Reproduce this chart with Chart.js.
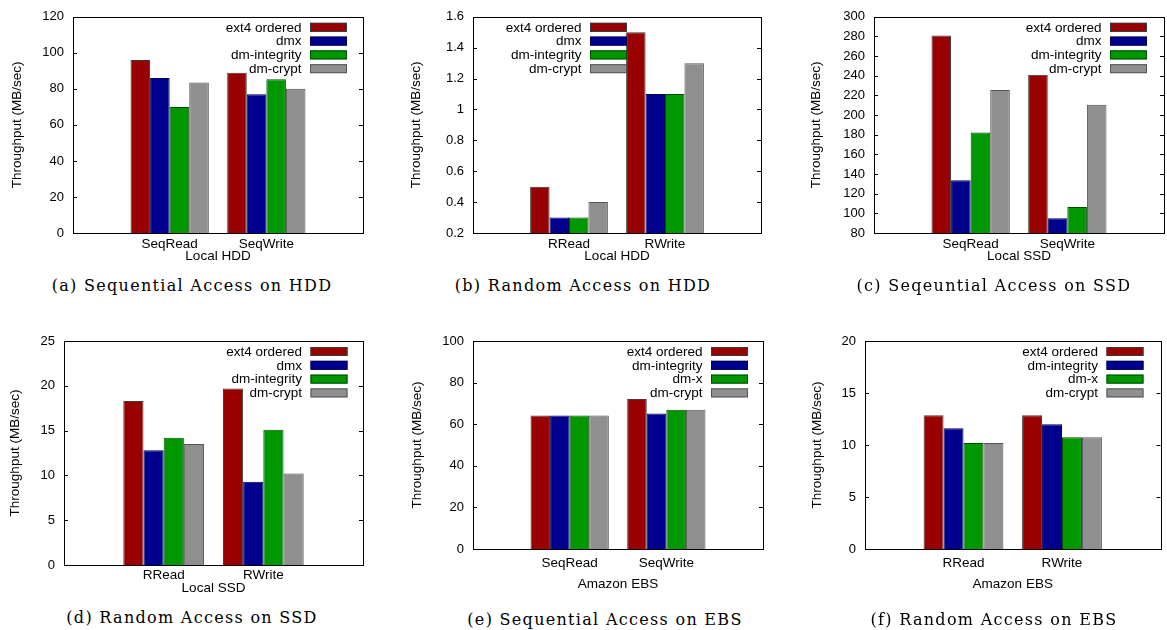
<!DOCTYPE html>
<html>
<head>
<meta charset="utf-8">
<script src="https://cdn.jsdelivr.net/npm/chart.js@4.4.1/dist/chart.umd.min.js"></script>
<style>
    body { margin: 0; background: #fff; width: 1167px; height: 630px; overflow: hidden; position: relative; }
    .panel { position: absolute; }
    .caption { position: absolute; transform: translate(-50%, -50%); white-space: nowrap; font-family: 'DejaVu Serif', serif; font-size: 16px; letter-spacing: 1.3px; color: #000; }
</style>
</head>
<body>
<div class="panel" style="left:0px;top:0px"><canvas id="chartA" width="390" height="266"></canvas></div>
<div class="panel" style="left:390px;top:0px"><canvas id="chartB" width="390" height="266"></canvas></div>
<div class="panel" style="left:777px;top:0px"><canvas id="chartC" width="390" height="266"></canvas></div>
<div class="panel" style="left:0px;top:310px"><canvas id="chartD" width="390" height="290"></canvas></div>
<div class="panel" style="left:390px;top:310px"><canvas id="chartE" width="390" height="290"></canvas></div>
<div class="panel" style="left:777px;top:310px"><canvas id="chartF" width="390" height="290"></canvas></div>

<div class="caption" style="left:192px;top:285px">(a) Sequential Access on HDD</div>
<div class="caption" style="left:583px;top:285px">(b) Random Access on HDD</div>
<div class="caption" style="left:994px;top:285px">(c) Seqeuntial Access on SSD</div>
<div class="caption" style="left:192px;top:617px">(d) Random Access on SSD</div>
<div class="caption" style="left:605px;top:619px">(e) Sequential Access on EBS</div>
<div class="caption" style="left:994px;top:619px">(f) Random Access on EBS</div>

<script>
// categories
const seqOps = ['SeqRead', 'SeqWrite'];
const randOps = ['RRead', 'RWrite'];

// legend names
const localSeries = ['ext4 ordered', 'dmx', 'dm-integrity', 'dm-crypt'];
const ebsSeries = ['ext4 ordered', 'dm-integrity', 'dm-x', 'dm-crypt'];

// values, one row per series: [read, write]
const hddSeq = [[96, 89], [86, 77], [70, 85.4], [83.5, 80]];
const hddRand = [[0.5, 1.5], [0.3, 1.1], [0.3, 1.1], [0.4, 1.3]];
const ssdSeq = [[281, 241], [133.6, 95], [182.3, 106.5], [225.5, 210.4]];
const ssdRand = [[18.3, 19.7], [12.8, 9.3], [14.2, 15.1], [13.5, 10.2]];
const ebsSeq = [[64.2, 72.1], [64.2, 65.2], [64.2, 66.9], [64.2, 66.9]];
const ebsRand = [[12.85, 12.85], [11.6, 12.0], [10.2, 10.75], [10.2, 10.75]];

const fills = ['#990000', '#00008f', '#009700', '#8f8f8f'];
const edges = ['#3a3a3a', '#000050', '#004d00', '#555555'];

const FONT = 'Liberation Sans, Arial, sans-serif';

// gnuplot style frame, inward ticks and legend with text left of the sample
const gnuplotLook = {
    id: 'gnuplotLook',
    afterDatasetsDraw(chart, args, opts) {
        const ctx = chart.ctx;
        const a = chart.chartArea;
        const y = chart.scales.y;
        ctx.save();
        ctx.strokeStyle = '#000';
        ctx.lineWidth = 1;
        ctx.beginPath();
        y.ticks.forEach(t => {
            const py = Math.round(y.getPixelForValue(t.value)) + 0.5;
            ctx.moveTo(a.left, py); ctx.lineTo(a.left + 4, py);
            ctx.moveTo(a.right, py); ctx.lineTo(a.right - 4, py);
        });
        ctx.stroke();
        ctx.strokeRect(Math.round(a.left) + 0.5, Math.round(a.top) + 0.5,
            Math.round(a.right - a.left), Math.round(a.bottom - a.top));

        // legend
        ctx.font = '13.5px ' + FONT;
        ctx.textAlign = 'right';
        ctx.textBaseline = 'middle';
        const boxRight = a.right - opts.right;
        const boxW = 37, boxH = 9;
        chart.data.datasets.forEach((ds, i) => {
            const cy = a.top + 10.5 + i * 13.8;
            ctx.fillStyle = '#000';
            ctx.fillText(ds.label, boxRight - boxW - 8.5, cy + 0.5);
            ctx.fillStyle = ds.backgroundColor;
            ctx.fillRect(boxRight - boxW, cy - boxH / 2, boxW, boxH);
            ctx.strokeStyle = ds.borderColor;
            ctx.strokeRect(boxRight - boxW + 0.5, cy - boxH / 2 + 0.5, boxW - 1, boxH - 1);
        });
        ctx.restore();
    }
};

function makeChart(id, ops, names, values, cfg) {
    const datasets = names.map((name, i) => ({
        label: name,
        data: [null, values[i][0], values[i][1], null],
        backgroundColor: fills[i],
        borderColor: edges[i],
        borderWidth: 1,
        categoryPercentage: 0.81,
        barPercentage: 1.0
    }));

    new Chart(document.getElementById(id), {
        type: 'bar',
        data: { labels: ['', ...ops, ''], datasets: datasets },
        options: {
            responsive: false,
            animation: false,
            devicePixelRatio: 1,
            layout: { padding: { top: cfg.top, right: cfg.right, bottom: cfg.bottom, left: 0 } },
            plugins: {
                legend: { display: false },
                tooltip: { enabled: false },
                gnuplotLook: { right: cfg.legendRight }
            },
            scales: {
                x: {
                    offset: false,
                    grid: { display: false, drawTicks: false, offset: false },
                    border: { display: false },
                    ticks: { autoSkip: false, maxRotation: 0, padding: cfg.xPad, color: '#000', font: { family: FONT, size: 13.5 } },
                    title: { display: true, text: cfg.xTitle, color: '#000', font: { family: FONT, size: 13.5 }, padding: { top: 0, bottom: 0 } },
                    afterFit: s => { s.height = cfg.xH; }
                },
                y: {
                    min: cfg.min, max: cfg.max,
                    grid: { display: false, drawTicks: false },
                    border: { display: false },
                    ticks: {
                        stepSize: cfg.step, padding: 9, color: '#000',
                        font: { family: FONT, size: 13 },
                        callback: v => String(+v.toFixed(2))
                    },
                    title: { display: true, text: 'Throughput (MB/sec)', color: '#000', font: { family: FONT, size: 13.5 }, padding: { top: cfg.yTitlePad, bottom: 0 } },
                    afterFit: s => { s.width = cfg.yW; }
                }
            }
        },
        plugins: [gnuplotLook]
    });
}

makeChart('chartA', seqOps, localSeries, hddSeq,
    { top: 9, right: 27, bottom: 2, xH: 31, xPad: 3, yW: 73, yTitlePad: 9.4, min: 0, max: 120, step: 20, xTitle: 'Local HDD', legendRight: 16 });
makeChart('chartB', randOps, localSeries, hddRand,
    { top: 9, right: 19, bottom: 2, xH: 31, xPad: 3, yW: 83, yTitlePad: 18.6, min: 0.2, max: 1.6, step: 0.2, xTitle: 'Local HDD', legendRight: 134 });
makeChart('chartC', seqOps, localSeries, ssdSeq,
    { top: 9, right: 2, bottom: 2, xH: 31, xPad: 3, yW: 97, yTitlePad: 31, min: 80, max: 300, step: 20, xTitle: 'Local SSD', legendRight: 17 });
makeChart('chartD', randOps, localSeries, ssdRand,
    { top: 31, right: 27, bottom: 4, xH: 31, xPad: 2.3, yW: 64, yTitlePad: 7, min: 0, max: 25, step: 5, xTitle: 'Local SSD', legendRight: 15.5 });
makeChart('chartE', seqOps, ebsSeries, ebsSeq,
    { top: 31, right: 17, bottom: 8, xH: 43, xPad: 6.5, yW: 83, yTitlePad: 19, min: 0, max: 100, step: 20, xTitle: 'Amazon EBS', legendRight: 15 });
makeChart('chartF', randOps, ebsSeries, ebsRand,
    { top: 31, right: 2, bottom: 8, xH: 43, xPad: 6.5, yW: 88, yTitlePad: 32, min: 0, max: 20, step: 5, xTitle: 'Amazon EBS', legendRight: 17 });
</script>
</body>
</html>
